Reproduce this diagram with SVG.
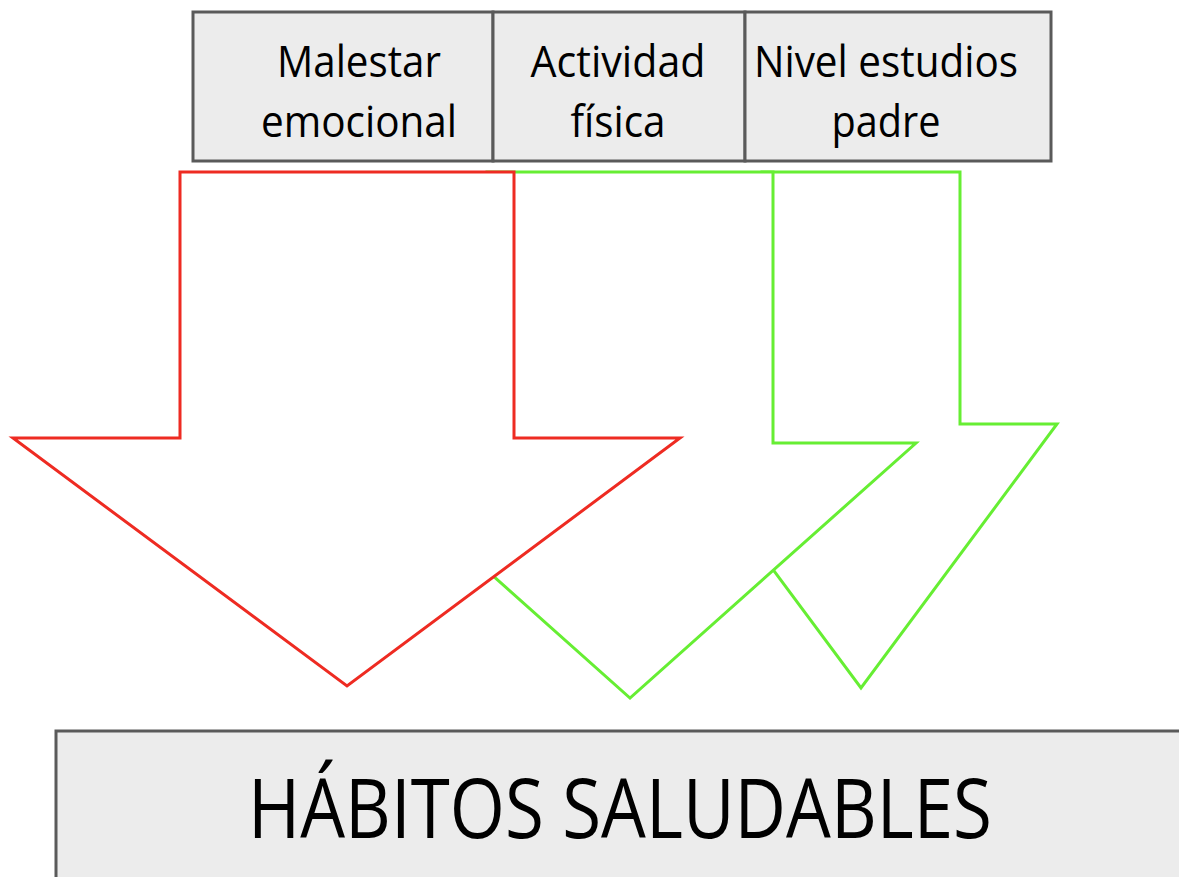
<svg xmlns="http://www.w3.org/2000/svg" width="1179" height="877" viewBox="0 0 1179 877">
<style>
.box{fill:#ececec;stroke:#5a5a5a;stroke-width:3}
.t{font-family:"Open Sans","Liberation Sans",sans-serif;font-size:43px;fill:#000}
.big{font-family:"Open Sans","Liberation Sans",sans-serif;font-size:82px;fill:#000}
.red{fill:#fff;stroke:#ee2b22;stroke-width:3;stroke-linejoin:miter}
.green{fill:#fff;stroke:#66ee33;stroke-width:3;stroke-linejoin:miter}
</style>
<rect width="1179" height="877" fill="#fff"/>
<g id="connectors">
<polygon class="green" points="762,172 960,172 960,424 1057,424 861,688 665,424 762,424"/>
<polygon class="green" points="487,172 773,172 773,443 916,443 630,698 344,443 487,443"/>
<polygon class="red" points="180,172 514,172 514,438 680,438 347,686 13,438 180,438"/>
</g>
<g id="node-malestar">
<rect class="box" x="193" y="12" width="300" height="149"/>
<text class="t" x="359" y="77" text-anchor="middle" textLength="164" lengthAdjust="spacingAndGlyphs">Malestar</text>
<text class="t" x="359" y="137" text-anchor="middle" textLength="196" lengthAdjust="spacingAndGlyphs">emocional</text>
</g>
<g id="node-actividad">
<rect class="box" x="493" y="12" width="252" height="149"/>
<text class="t" x="618" y="77" text-anchor="middle" textLength="175" lengthAdjust="spacingAndGlyphs">Actividad</text>
<text class="t" x="618" y="137" text-anchor="middle" textLength="95" lengthAdjust="spacingAndGlyphs">física</text>
</g>
<g id="node-nivel">
<rect class="box" x="745" y="12" width="306" height="149"/>
<text class="t" x="886" y="77" text-anchor="middle" textLength="264" lengthAdjust="spacingAndGlyphs">Nivel estudios</text>
<text class="t" x="886" y="137" text-anchor="middle" textLength="109" lengthAdjust="spacingAndGlyphs">padre</text>
</g>
<g id="node-habitos">
<rect class="box" x="56" y="731" width="1140" height="160"/>
<text class="big" x="620" y="838" text-anchor="middle" textLength="744" lengthAdjust="spacingAndGlyphs">HÁBITOS SALUDABLES</text>
</g>
</svg>
